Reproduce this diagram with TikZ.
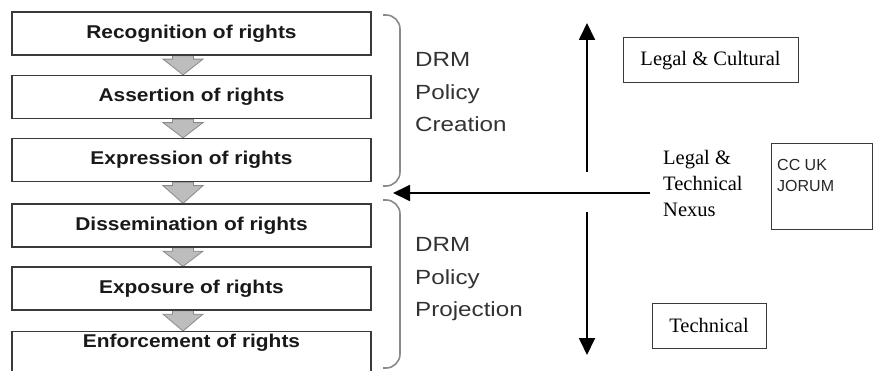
\documentclass[tikz,border=0pt]{standalone}
\usepackage{fontspec}
\setmainfont{Liberation Serif}
\setsansfont{Liberation Sans}
\newfontfamily\boxfont[FakeStretch=1.13]{Liberation Sans}
\newfontfamily\drmfont[FakeStretch=1.18]{Liberation Sans}
\usepackage{tikz}
\usetikzlibrary{arrows.meta,calc,positioning,backgrounds}
\definecolor{rline}{HTML}{3A3A3A}
\definecolor{rgray}{HTML}{BDBDBD}
\definecolor{redge}{HTML}{8A8A8A}
\definecolor{rtext}{HTML}{333333}
\tikzset{
  >={Triangle[length=17pt,width=16pt]},
  rstep/.style={draw=rline, line width=1.3pt, fill=white, minimum width=359pt,
                minimum height=43pt, inner sep=0pt, text=black!90,
                font=\boxfont\bfseries\fontsize{18.5}{22}\selectfont},
  rflow/.style={fill=rgray, draw=redge, line width=0.8pt},
  rbrace/.style={draw=redge, line width=1.6pt, rounded corners=14pt},
  rdrm/.style={text=rtext, font=\drmfont\fontsize{20.5}{32.5}\selectfont,
               align=left, inner sep=0pt},
  rlbl/.style={font=\fontsize{20.5}{26}\selectfont, align=left, inner sep=0pt},
  rbox/.style={draw=rline, line width=1pt, inner sep=0pt},
  raxis/.style={->, black, line width=1.8pt},
}
\begin{document}
\begin{tikzpicture}[x=1pt,y=-1pt]
  \useasboundingbox (0,0) rectangle (874,371);

  % rights chain
  \node[rstep] (rec)  at (191.5,33.5)  {Recognition of rights};
  \node[rstep] (ass)  at (191.5,97)    {Assertion of rights};
  \node[rstep] (exp)  at (191.5,160)   {Expression of rights};
  \node[rstep] (dis)  at (191.5,225.5) {Dissemination of rights};
  \node[rstep] (expo) at (191.5,288.5) {Exposure of rights};
  \node[rstep, anchor=north, text depth=30pt, inner ysep=2pt] (enf)
        at (191.5,331) {Enforcement of rights};

  % grey block arrows
  \begin{scope}[on background layer]
    \foreach \a/\b in {rec/ass,ass/exp,exp/dis,dis/expo,expo/enf}
      \draw[rflow] ($(\a.south)+(-19,0)$) -- ($(\a.south)+(-19,3.5)$)
        -- ($(\a.south)+(-28.5,3.5)$) -- ($(\b.north)+(-8.5,0)$)
        -- ($(\a.south)+(11.5,3.5)$) -- ($(\a.south)+(2,3.5)$)
        -- ($(\a.south)+(2,0)$) -- cycle;
  \end{scope}

  % braces
  \draw[rbrace] (383,15) -- (400,15) -- (400,186) -- (383,186);
  \draw[rbrace] (383,200) -- (400,200) -- (400,368) -- (383,368);

  % base of a multi-line node = baseline of its last line
  \node[rdrm, anchor=base west] (create)  at (415,132)   {DRM\\Policy\\Creation};
  \node[rdrm, anchor=base west] (project) at (415,316.5) {DRM\\Policy\\Projection};

  % legal / technical axis
  \coordinate (upfoot) at (587,172);
  \coordinate (uptip)  at (587,23);
  \coordinate (dnfoot) at (587,212);
  \coordinate (dntip)  at (587,355);
  \draw[raxis] (upfoot) -- (uptip);
  \draw[raxis] (dnfoot) -- (dntip);

  \node[rbox, rlbl, minimum width=175pt, minimum height=45pt] (legal)
        at (710.5,60.5) {Legal \& Cultural};
  \node[rbox, rlbl, minimum width=114pt, minimum height=45pt] (tech)
        at (709,325.5) {Technical};

  \node[rlbl, anchor=base west] (nexus) at (663,217) {Legal \&\\Technical\\Nexus};
  \coordinate (gap) at (393,193);
  \draw[raxis, shorten <=13pt] (nexus.west |- gap) -- (gap);

  \node[rbox, minimum width=101pt, minimum height=86pt, anchor=north west]
        (jorumbox) at (771,143) {};
  \node[font=\sffamily\fontsize{16}{20.5}\selectfont, text=black!85, align=left,
        inner sep=0pt, anchor=base west] (jorum)
        at ($(jorumbox.north west)+(6,48.5)$) {CC UK\\JORUM};
\end{tikzpicture}
\end{document}
